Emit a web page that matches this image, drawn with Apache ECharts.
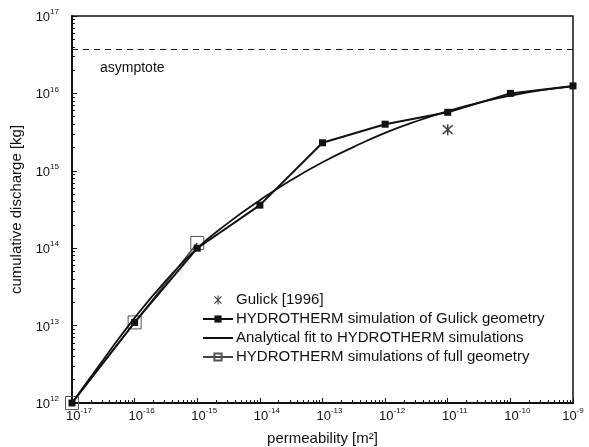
<!DOCTYPE html>
<html>
<head>
<meta charset="utf-8">
<script src="https://cdn.jsdelivr.net/npm/echarts@6/dist/echarts.min.js"></script>
<style>
html,body{margin:0;padding:0;background:#fff;}
#chart{width:589px;height:447px;}
</style>
</head>
<body>
<div id="chart"></div>
<script>
// ---- data ----
const permeability = [1e-17, 1e-16, 1e-15, 1e-14, 1e-13, 1e-12, 1e-11, 1e-10, 1e-9];
const gulickGeometry = [1e12, 1.1e13, 1.0e14, 3.6e14, 2.3e15, 4.0e15, 5.7e15, 1.0e16, 1.25e16];

const fitPermeability = [1e-17, 3.16e-17, 1e-16, 3.16e-16, 1e-15, 3.16e-15, 1e-14, 3.16e-14, 1e-13, 3.16e-13, 1e-12, 3.16e-12, 1e-11, 3.16e-11, 1e-10, 3.16e-10, 1e-9];
const fitDischarge = [1e12, 3.63e12, 1.26e13, 3.8e13, 1.0e14, 2.14e14, 4.17e14, 7.6e14, 1.29e15, 2.04e15, 3.09e15, 4.37e15, 5.89e15, 7.59e15, 9.33e15, 1.10e16, 1.23e16];

const fullPermeability = [1e-17, 1e-16, 1e-15];
const fullGeometry = [1e12, 1.1e13, 1.17e14];

const gulick1996 = [[1e-11, 3.4e15]];
const asymptoteValue = 3.7e16;
const xRange = [1e-17, 1e-9];
const yRange = [1e12, 1e17];

const seriesNames = [
  'Gulick [1996]',
  'HYDROTHERM simulation of Gulick geometry',
  'Analytical fit to HYDROTHERM simulations',
  'HYDROTHERM simulations of full geometry'
];

const zip = (xs, ys) => xs.map((x, i) => [x, ys[i]]);
const FONT = 'Liberation Sans, Arial, sans-serif';
const asterisk = 'path://M4.4,0 L5.6,0 L5.6,10 L4.4,10 Z M0.6,1.4 L1.5,0.6 L9.4,8.6 L8.5,9.4 Z M8.5,0.6 L9.4,1.4 L1.5,9.4 L0.6,8.6 Z';

const expOf = v => Math.round(Math.log10(v));
const xLabel = v => {
  const e = expOf(v);
  return (String(e).length > 2 ? '{b|10}' : '{c|10}') + '{s|' + e + '}';
};
const yLabel = v => '{b|10}{s|' + expOf(v) + '}';
const richX = {
  b: {fontSize: 13, fontFamily: FONT, color: '#111', lineHeight: 16, verticalAlign: 'bottom', padding: [0, 0, 0, 14]},
  c: {fontSize: 13, fontFamily: FONT, color: '#111', lineHeight: 16, verticalAlign: 'bottom', padding: [0, 0, 0, 0]},
  s: {fontSize: 8, fontFamily: FONT, color: '#111', lineHeight: 8, verticalAlign: 'top'}
};
const richY = {
  b: {fontSize: 13, fontFamily: FONT, color: '#111', lineHeight: 16, verticalAlign: 'bottom'},
  s: {fontSize: 8, fontFamily: FONT, color: '#111', lineHeight: 8, verticalAlign: 'top'}
};

const chart = echarts.init(document.getElementById('chart'));
chart.setOption({
  animation: false,
  backgroundColor: '#fff',
  textStyle: {fontFamily: FONT},
  grid: {left: 72, right: 16, top: 16, bottom: 44, show: true, borderColor: '#111', borderWidth: 1.5, backgroundColor: 'transparent', outerBoundsMode: 'none', containLabel: false},
  legend: {
    orient: 'vertical',
    left: 202,
    top: 292,
    padding: 0,
    itemWidth: 30,
    itemHeight: 9,
    itemGap: 3,
    itemStyle: {},
    textStyle: {fontSize: 15, color: '#111', fontFamily: FONT, lineHeight: 16, padding: [0, 0, 0, -2]},
    data: [
      {name: seriesNames[0]},
      {name: seriesNames[1]},
      {name: seriesNames[2], itemStyle: {color: 'rgba(0,0,0,0)', borderColor: 'rgba(0,0,0,0)', opacity: 0}},
      {name: seriesNames[3]}
    ]
  },
  xAxis: {
    type: 'log',
    logBase: 10,
    min: xRange[0],
    max: xRange[1],
    name: 'permeability [m²]',
    nameLocation: 'middle',
    nameGap: 28,
    nameTextStyle: {fontSize: 15, color: '#111', fontFamily: FONT},
    axisLine: {lineStyle: {color: '#111', width: 2}},
    axisTick: {inside: true, length: 5, lineStyle: {color: '#111'}},
    minorTick: {show: true, splitNumber: 9, length: 3, lineStyle: {color: '#111'}},
    splitLine: {show: false},
    axisLabel: {formatter: xLabel, rich: richX, margin: 4}
  },
  yAxis: {
    type: 'log',
    logBase: 10,
    min: yRange[0],
    max: yRange[1],
    name: 'cumulative discharge [kg]',
    nameLocation: 'middle',
    nameGap: 38,
    nameTextStyle: {fontSize: 15, color: '#111', fontFamily: FONT},
    axisLine: {lineStyle: {color: '#111', width: 2}},
    axisTick: {inside: true, length: 5, lineStyle: {color: '#111'}},
    minorTick: {show: true, splitNumber: 9, length: 3, lineStyle: {color: '#111'}},
    splitLine: {show: false},
    axisLabel: {formatter: yLabel, rich: richY, margin: 13}
  },
  series: [
    {
      name: 'asymptote',
      type: 'line',
      data: [],
      markLine: {
        silent: true,
        symbol: 'none',
        lineStyle: {color: '#111', type: [6, 5], width: 1},
        label: {show: true, position: 'insideStartBottom', formatter: 'asymptote', fontSize: 14, color: '#111', fontFamily: FONT, distance: [28, 12]},
        data: [[{coord: [xRange[0], asymptoteValue]}, {coord: [xRange[1], asymptoteValue]}]]
      }
    },
    {
      name: seriesNames[3],
      type: 'line',
      data: zip(fullPermeability, fullGeometry),
      symbol: 'rect',
      symbolSize: 13,
      lineStyle: {color: '#444', width: 1.5},
      itemStyle: {color: 'rgba(255,255,255,0)', borderColor: '#555', borderWidth: 1},
      z: 2
    },
    {
      name: seriesNames[2],
      type: 'line',
      data: zip(fitPermeability, fitDischarge),
      smooth: 0.5,
      showSymbol: false,
      symbol: 'none',
      lineStyle: {color: '#111', width: 1.8},
      itemStyle: {color: '#111'},
      z: 3
    },
    {
      name: seriesNames[1],
      type: 'line',
      data: zip(permeability, gulickGeometry),
      symbol: 'rect',
      symbolSize: 7,
      lineStyle: {color: '#111', width: 2},
      itemStyle: {color: '#111'},
      z: 4
    },
    {
      name: seriesNames[0],
      type: 'scatter',
      data: gulick1996,
      symbol: asterisk,
      symbolSize: 11,
      itemStyle: {color: '#111'},
      z: 5
    }
  ]
});
</script>
</body>
</html>
